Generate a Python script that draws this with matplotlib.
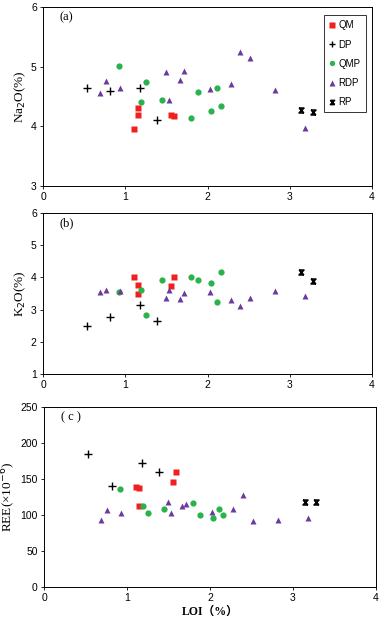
import matplotlib
matplotlib.use("Agg")
import matplotlib.pyplot as plt
from matplotlib.path import Path

# LOI (%) and oxides / REE for each rock group
qm_loi = [1.11, 1.15, 1.15, 1.55, 1.59]
qm_na = [3.96, 4.30, 4.19, 4.19, 4.17]
qm_k = [4.02, 3.75, 3.50, 3.73, 4.00]
qm_ree = [138.5, 138.0, 112.5, 145.8, 160.0]

dp_loi = [0.53, 0.82, 1.18, 1.38]
dp_na = [4.64, 4.60, 4.65, 4.10]
dp_k = [2.49, 2.77, 3.13, 2.64]
dp_ree = [184.5, 140.7, 172.0, 160.0]

qmp_loi = [0.92, 1.19, 1.25, 1.45, 1.80, 1.88, 2.04, 2.11, 2.16]
qmp_na = [5.01, 4.41, 4.75, 4.44, 4.14, 4.57, 4.26, 4.64, 4.34]
qmp_k = [3.55, 3.60, 2.82, 3.93, 4.02, 3.91, 3.83, 3.24, 4.17]
qmp_ree = [135.6, 113.0, 103.3, 108.4, 116.7, 100.1, 95.5, 107.9, 99.6]

rdp_loi = [0.69, 0.76, 0.93, 1.49, 1.53, 1.66, 1.71, 2.03, 2.28, 2.40, 2.52, 2.82, 3.18]
rdp_na = [4.56, 4.76, 4.64, 4.91, 4.44, 4.78, 4.92, 4.63, 4.71, 5.25, 5.15, 4.61, 3.98]
rdp_k = [3.56, 3.60, 3.59, 3.35, 3.60, 3.34, 3.52, 3.54, 3.29, 3.12, 3.37, 3.57, 3.41]
rdp_ree = [93.2, 107.0, 103.3, 118.0, 103.3, 113.0, 115.8, 103.8, 108.4, 127.3, 91.3, 93.2, 96.4]

rp_loi = [3.14, 3.28]
rp_na = [4.27, 4.24]
rp_k = [4.16, 3.88]
rp_ree = [118.0, 118.0]

# hourglass-like marker used for RP
rp_marker = Path([(-1, 1), (1, 1), (-1, -1), (1, -1), (-1, 1), (1, -1)],
                 [Path.MOVETO, Path.LINETO, Path.LINETO, Path.LINETO, Path.MOVETO, Path.LINETO])

serif = ["Liberation Serif", "Noto Sans CJK SC"]
sans = "Liberation Sans"

fig = plt.figure(figsize=(3.82, 6.25), dpi=100)
ax_a = fig.add_axes([0.1126, 0.7024, 0.8614, 0.2864])
ax_b = fig.add_axes([0.1126, 0.4016, 0.8614, 0.2576])
ax_c = fig.add_axes([0.1152, 0.0608, 0.869, 0.2880])

panels = [
    (ax_a, qm_na, dp_na, qmp_na, rdp_na, rp_na, (3, 6), [3, 4, 5, 6], "Na$_2$O(%)", "(a)"),
    (ax_b, qm_k, dp_k, qmp_k, rdp_k, rp_k, (1, 6), [1, 2, 3, 4, 5, 6], "K$_2$O(%)", "(b)"),
    (ax_c, qm_ree, dp_ree, qmp_ree, rdp_ree, rp_ree, (0, 250), [0, 50, 100, 150, 200, 250],
     "REE(×10$^{-6}$)", "( c )"),
]

for ax, qm, dp, qmp, rdp, rp, ylim, yticks, ylabel, tag in panels:
    ax.plot(qm_loi, qm, "s", color="#f02020", ms=4.5, mec="none", label="QM")
    ax.plot(dp_loi, dp, "+", color="black", ms=5.5, mew=1.0, label="DP")
    ax.plot(qmp_loi, qmp, "o", color="#2ab34a", ms=4.5, mec="none", label="QMP")
    ax.plot(rdp_loi, rdp, "^", color="#6a3a9e", ms=4.5, mec="none", label="RDP")
    ax.plot(rp_loi, rp, ls="none", marker=rp_marker, color="black", ms=3.5, mew=1.2,
            mfc="none", label="RP")
    ax.set_xlim(0, 4)
    ax.set_ylim(*ylim)
    ax.set_xticks([0, 1, 2, 3, 4])
    ax.set_yticks(yticks)
    ax.tick_params(direction="out", length=2.5, width=0.6, labelsize=7.5, pad=2)
    for lab in ax.get_xticklabels() + ax.get_yticklabels():
        lab.set_family(sans)
    for s in ax.spines.values():
        s.set_linewidth(0.7)
    ax.set_ylabel(ylabel, family=serif, fontsize=9.5, labelpad=2)
    ax.text(0.05, 0.975, tag, transform=ax.transAxes, family=serif, fontsize=9,
            va="top", ha="left")

leg = ax_a.legend(loc="upper right", prop={"family": sans, "size": 7},
                  frameon=True, fancybox=False, edgecolor="black", labelspacing=0.95,
                  handlelength=0.6, handletextpad=0.4, borderpad=0.5,
                  bbox_to_anchor=(0.995, 0.98), markerscale=0.85)
leg.get_frame().set_linewidth(0.7)

ax_c.set_xlabel("LOI（%）", family=serif, fontsize=8.5, fontweight="bold", labelpad=2)

fig.savefig("out.png", dpi=100)
